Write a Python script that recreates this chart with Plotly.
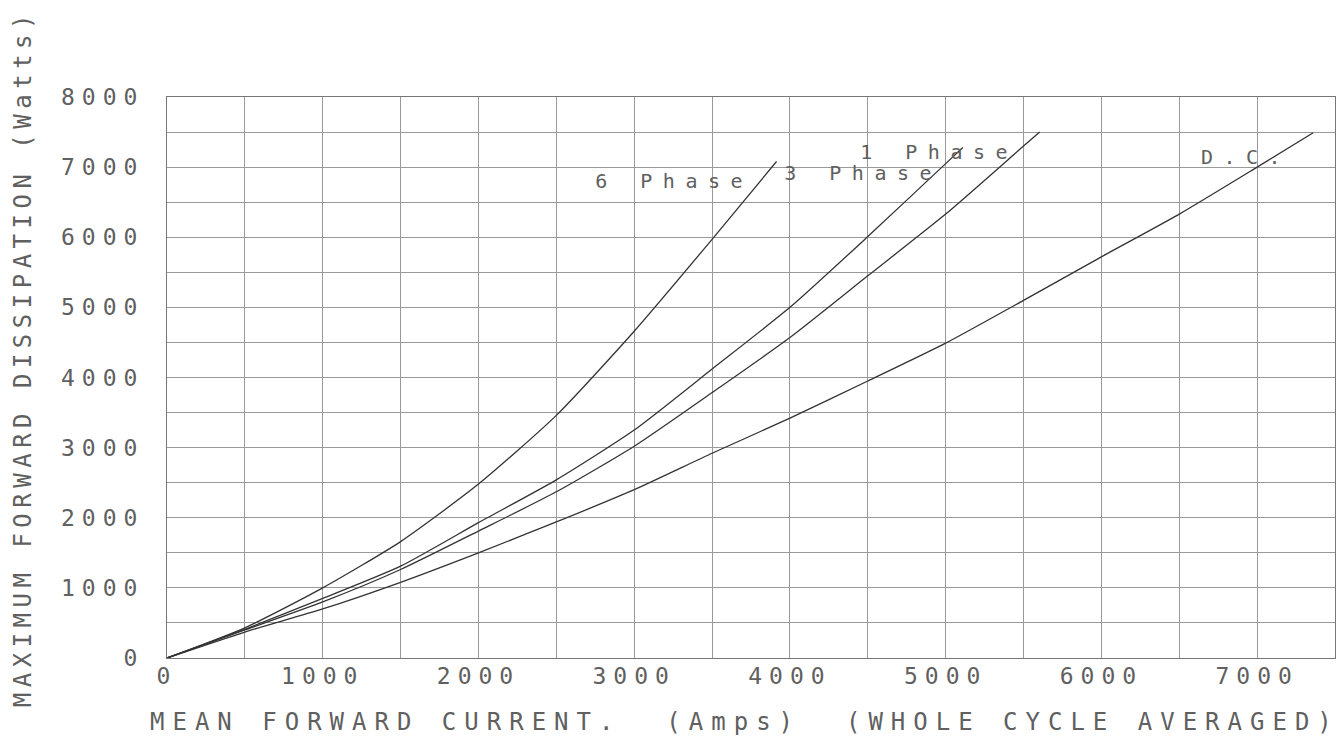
import plotly.graph_objects as go

# ---- data ----
x_6ph = [0, 500, 1000, 1500, 2000, 2500, 3000, 3500, 3914]
y_6ph = [0, 430, 1000, 1660, 2480, 3460, 4660, 5970, 7080]

x_3ph = [0, 500, 1000, 1500, 2000, 2500, 3000, 3500, 4000, 4500, 5000, 5110]
y_3ph = [0, 410, 850, 1310, 1930, 2540, 3250, 4120, 5000, 6010, 7050, 7280]

x_1ph = [0, 500, 1000, 1500, 2000, 2500, 3000, 3500, 4000, 4500, 5000, 5500, 5604]
y_1ph = [0, 400, 800, 1262, 1810, 2370, 3020, 3785, 4570, 5450, 6330, 7300, 7500]

x_dc = [0, 500, 1000, 1500, 2000, 2500, 3000, 3500, 4000, 4500, 5000, 5500, 6000, 6500, 7000, 7360]
y_dc = [0, 370, 700, 1080, 1500, 1940, 2400, 2920, 3420, 3950, 4490, 5100, 5720, 6330, 7000, 7490]

series_names = ["6 Phase", "3 Phase", "1 Phase", "D.C."]
label_x = [3255, 4470, 4955, 6930]
label_y = [6800, 6920, 7210, 7140]

x_title = "MEAN FORWARD CURRENT.\u00a0\u00a0(Amps)\u00a0\u00a0(WHOLE CYCLE AVERAGED)"
y_title = "MAXIMUM FORWARD DISSIPATION (Watts)"

FONT = "DejaVu Sans Mono"
TXT = "#606060"
LINE = "#333333"

fig = go.Figure()
for xs, ys, nm in [(x_6ph, y_6ph, series_names[0]), (x_3ph, y_3ph, series_names[1]),
                   (x_1ph, y_1ph, series_names[2]), (x_dc, y_dc, series_names[3])]:
    fig.add_trace(go.Scatter(x=xs, y=ys, name=nm, mode="lines",
                             line=dict(color=LINE, width=1.3, shape="spline", smoothing=0.6),
                             showlegend=False, hoverinfo="x+y+name"))

for nm, lx, ly in zip(series_names, label_x, label_y):
    fig.add_annotation(x=lx, y=ly, text=nm, showarrow=False, xanchor="center", yanchor="middle",
                       font=dict(family=FONT, size=20, color=TXT))

fig.add_annotation(xref="paper", yref="paper", x=0.4945, y=-0.114, text=x_title, showarrow=False,
                   xanchor="center", yanchor="middle", font=dict(family=FONT, size=24, color=TXT))
fig.add_annotation(xref="paper", yref="paper", x=-0.1233, y=0.5348, text=y_title, showarrow=False,
                   textangle=-90, xanchor="center", yanchor="middle",
                   font=dict(family=FONT, size=24, color=TXT))

GRID = "#9a9a9a"
fig.update_xaxes(range=[0, 7500], dtick=1000, tick0=0, showgrid=True, gridcolor=GRID, gridwidth=1,
                 minor=dict(dtick=500, showgrid=True, gridcolor=GRID, gridwidth=1),
                 showline=True, mirror=True, linecolor="#777777", linewidth=1,
                 zeroline=False, ticks="", ticklabelstandoff=-3,
                 tickfont=dict(family=FONT, size=23, color=TXT))
fig.update_yaxes(range=[0, 8000], dtick=1000, tick0=0, showgrid=True, gridcolor=GRID, gridwidth=1,
                 minor=dict(dtick=500, showgrid=True, gridcolor=GRID, gridwidth=1),
                 showline=True, mirror=True, linecolor="#777777", linewidth=1,
                 zeroline=False, ticks="", ticklabelstandoff=17,
                 tickfont=dict(family=FONT, size=23, color=TXT))

fig.update_layout(width=1343, height=747, margin=dict(l=167, r=8, t=97, b=89),
                  paper_bgcolor="white", plot_bgcolor="white")

post = """
document.body.style.margin = '0';
document.body.style.overflow = 'hidden';
var gd = document.getElementById('{plot_id}');
function spaceText(){
  gd.querySelectorAll('text').forEach(function(t){
    var s = t.textContent || '';
    var ls = null;
    if (t.closest('.xtick') || t.closest('.ytick')) { ls = 7; }
    else if (t.closest('.annotation')) {
      if (s.indexOf('MEAN') === 0) ls = 8;
      else if (s.indexOf('MAXIMUM') === 0) ls = 5.5;
      else ls = 10.5;
    }
    if (ls !== null) { t.style.letterSpacing = ls + 'px'; }
  });
}
spaceText();
gd.on('plotly_afterplot', spaceText);
"""

fig.write_html("out.html", post_script=post, config={"displayModeBar": False})
